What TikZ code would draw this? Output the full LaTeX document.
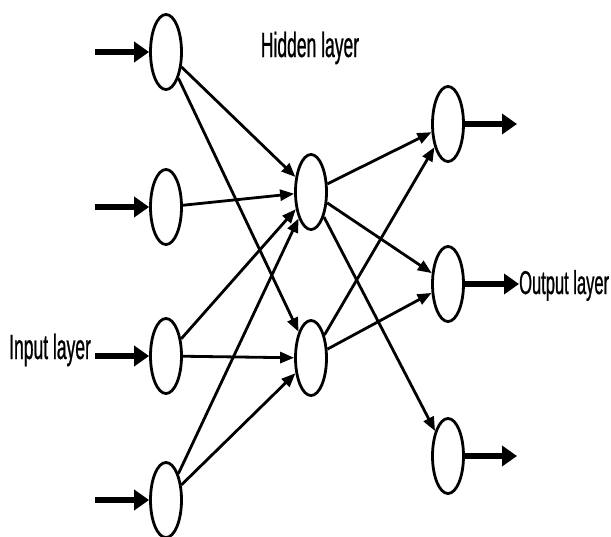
\documentclass[tikz,border=0pt]{standalone}
\usepackage{fontspec}
\setmainfont{Liberation Sans}[FakeStretch=0.5,FakeBold=0.7]
\usetikzlibrary{arrows.meta,shapes.geometric}

\begin{document}
\begin{tikzpicture}[x=1pt,y=-1pt,
  neuron/.style={draw,shape=ellipse,line width=2.8pt,minimum width=31pt,minimum height=75pt,inner sep=0pt},
  link/.style={line width=2.8pt,-{Triangle[length=14pt,width=11pt]}},
  feed/.style={line width=6.5pt,-{Triangle[length=15pt,width=20pt]}},
  tag/.style={font=\fontsize{35}{40}\selectfont,inner sep=0pt}]
\useasboundingbox (0,0) rectangle (611,536);

% input layer
\foreach \i/\y in {1/52,2/207,3/356,4/500}
  \node[neuron] (in\i) at (166,\y) {};
% hidden layer
\foreach \i/\y in {1/192,2/358}
  \node[neuron] (hid\i) at (311,\y) {};
% output layer
\foreach \i/\y in {1/124,2/284,3/456}
  \node[neuron] (out\i) at (448,\y) {};

\node[tag,anchor=base] (hidtag) at (310,57) {Hidden layer};
\node[tag,anchor=base west] (intag) at (9,359) {Input layer};
\node[tag,anchor=base west,font=\fontsize{33}{38}\selectfont] (outtag) at (519,294) {Output layer};

% incoming arrows
\foreach \i/\y in {1/52,2/207,4/500}
  \coordinate (src\i) at (95,\y);
\foreach \i in {1,2,4}
  \draw[feed] (src\i) -- (in\i);
\draw[feed] (intag.east |- in3) ++(4,0) coordinate (src3) -- (in3);

% connections
\foreach \i/\j in {1/1,1/2,2/1,3/1,3/2,4/1,4/2}
  \draw[link] (in\i) -- (hid\j);
\foreach \j/\k in {1/1,1/2,1/3,2/1,2/2}
  \draw[link] (hid\j) -- (out\k);

% outgoing arrows
\foreach \k/\y in {1/124,3/456}
  \coordinate (dst\k) at (517,\y);
\foreach \k in {1,3}
  \draw[feed] (out\k) -- (dst\k);
\draw[feed] (out2) -- (outtag.west |- out2);
\end{tikzpicture}
\end{document}
